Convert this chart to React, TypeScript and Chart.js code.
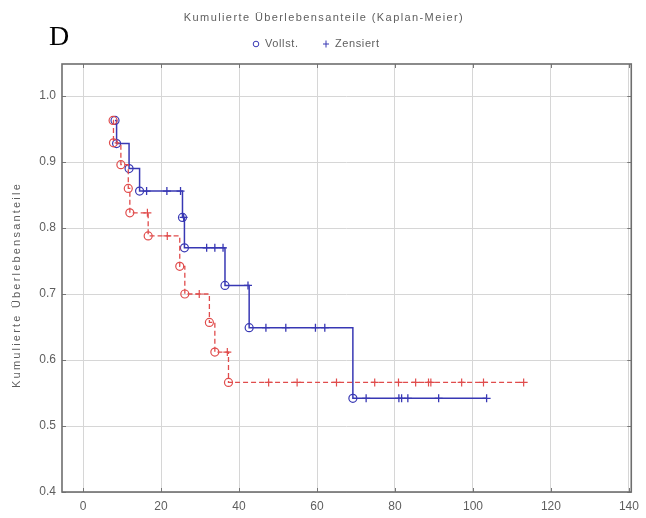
import { useEffect, useRef } from "react";
import { Chart, registerables } from "chart.js";

Chart.register(...registerables);

// Axis ticks
const xTicks = [0, 20, 40, 60, 80, 100, 120, 140];
const yTicks = [0.4, 0.5, 0.6, 0.7, 0.8, 0.9, 1.0];

// Group 1 (blue, solid): event times and survival after each event
const blueEventTimes = [8.2, 8.6, 11.8, 14.5, 25.5, 26.0, 36.4, 42.6, 69.2];
const blueEventSurv = [0.963, 0.928, 0.89, 0.856, 0.816, 0.77, 0.713, 0.649, 0.542];
const blueCensored = [16.3, 21.5, 25.0, 25.8, 31.7, 33.8, 35.9, 42.3, 46.9, 52.0, 59.6, 62.0, 72.6, 81.0, 81.7, 83.3, 91.2, 103.5];

// Group 2 (red, dashed)
const redEventTimes = [7.7, 7.8, 9.7, 11.6, 12.0, 16.7, 24.8, 26.1, 32.4, 33.8, 37.3];
const redEventSurv = [0.963, 0.929, 0.896, 0.86, 0.823, 0.788, 0.742, 0.7, 0.657, 0.612, 0.566];
const redCensored = [16.5, 21.6, 29.8, 37.0, 47.6, 54.9, 65.0, 74.8, 80.9, 85.3, 88.6, 89.2, 97.1, 102.7, 113.0];

const titleText = "Kumulierte Überlebensanteile (Kaplan-Meier)";
const yAxisTitle = "Kumulierte Überlebensanteile";
const legendComplete = "Vollst.";
const legendCensored = "Zensiert";
const panelLetter = "D";

const BLUE = "#3838b4";
const RED = "#e04c4c";
const TEXT = "#5e5e5e";
const FONT = '"Liberation Sans", Arial, sans-serif';

// Kaplan-Meier value at time t (step function)
function survivalAt(times: number[], surv: number[], t: number): number {
  let s = 1;
  for (let i = 0; i < times.length; i++) if (times[i] <= t) s = surv[i];
  return s;
}

function curvePoints(times: number[], surv: number[], censored: number[]) {
  const pts = times.map((t, i) => ({ x: t, y: surv[i] }));
  const lastT = Math.max(...censored, ...times);
  pts.push({ x: lastT, y: survivalAt(times, surv, lastT) });
  return pts;
}

function censorPoints(times: number[], surv: number[], censored: number[]) {
  return censored.map((t) => ({ x: t, y: survivalAt(times, surv, t) }));
}

const decorPlugin = {
  id: "decor",
  afterDraw(chart: any) {
    const { ctx, chartArea } = chart;
    const { left, right, top, bottom } = chartArea;
    const xs = chart.scales.x;
    const ys = chart.scales.y;
    ctx.save();
    // inward tick marks on all four sides
    ctx.strokeStyle = "#777";
    ctx.lineWidth = 1;
    ctx.beginPath();
    xTicks.forEach((v) => {
      const px = Math.round(xs.getPixelForValue(v)) + 0.5;
      ctx.moveTo(px, bottom);
      ctx.lineTo(px, bottom - 4);
      ctx.moveTo(px, top);
      ctx.lineTo(px, top + 4);
    });
    yTicks.forEach((v) => {
      const py = Math.round(ys.getPixelForValue(v)) + 0.5;
      ctx.moveTo(left, py);
      ctx.lineTo(left + 4, py);
      ctx.moveTo(right, py);
      ctx.lineTo(right - 4, py);
    });
    ctx.stroke();
    // frame
    ctx.strokeStyle = "#6e6e6e";
    ctx.lineWidth = 1.6;
    ctx.strokeRect(left, top, right - left, bottom - top);

    // title
    ctx.fillStyle = TEXT;
    ctx.font = `11px ${FONT}`;
    ctx.letterSpacing = "1.4px";
    ctx.textAlign = "center";
    ctx.textBaseline = "middle";
    ctx.fillText(titleText, 324, 18);

    // y axis title
    ctx.save();
    ctx.translate(17, 285);
    ctx.rotate(-Math.PI / 2);
    ctx.letterSpacing = "2.2px";
    ctx.fillText(yAxisTitle, 0, 0);
    ctx.restore();

    // legend
    const ly = 44;
    ctx.letterSpacing = "0.6px";
    ctx.strokeStyle = BLUE;
    ctx.lineWidth = 1;
    ctx.beginPath();
    ctx.arc(256, ly, 2.8, 0, Math.PI * 2);
    ctx.stroke();
    ctx.beginPath();
    ctx.moveTo(326, ly - 3.5);
    ctx.lineTo(326, ly + 3.5);
    ctx.moveTo(323, ly);
    ctx.lineTo(329, ly);
    ctx.stroke();
    ctx.fillStyle = TEXT;
    ctx.textAlign = "left";
    ctx.fillText(legendComplete, 265, ly);
    ctx.fillText(legendCensored, 335, ly);

    // panel letter
    ctx.letterSpacing = "0px";
    ctx.fillStyle = "#000";
    ctx.font = '28px "Liberation Serif", "Times New Roman", serif';
    ctx.textAlign = "left";
    ctx.textBaseline = "alphabetic";
    ctx.fillText(panelLetter, 49, 45);
    ctx.restore();
  },
};

export default function App() {
  const ref = useRef<HTMLCanvasElement>(null);

  useEffect(() => {
    document.body.style.margin = "0";
    const canvas = ref.current;
    if (!canvas) return;
    const chart = new Chart(canvas, {
      type: "scatter",
      data: {
        datasets: [
          {
            label: "Gruppe 2",
            data: curvePoints(redEventTimes, redEventSurv, redCensored),
            showLine: true,
            stepped: "before",
            borderColor: RED,
            borderWidth: 1.3,
            borderDash: [5, 3],
            pointStyle: "circle",
            pointRadius: [...redEventTimes.map(() => 4), 0],
            pointBorderWidth: 1.2,
            pointBorderColor: RED,
            pointBackgroundColor: "rgba(0,0,0,0)",
            order: 1,
          },
          {
            label: "Gruppe 2 zensiert",
            data: censorPoints(redEventTimes, redEventSurv, redCensored),
            showLine: false,
            pointStyle: "cross",
            pointRadius: 4,
            pointBorderWidth: 1.2,
            pointBorderColor: RED,
            order: 0,
          },
          {
            label: "Gruppe 1",
            data: curvePoints(blueEventTimes, blueEventSurv, blueCensored),
            showLine: true,
            stepped: "before",
            borderColor: BLUE,
            borderWidth: 1.5,
            pointStyle: "circle",
            pointRadius: [...blueEventTimes.map(() => 4), 0],
            pointBorderWidth: 1.2,
            pointBorderColor: BLUE,
            pointBackgroundColor: "rgba(0,0,0,0)",
            order: 3,
          },
          {
            label: "Gruppe 1 zensiert",
            data: censorPoints(blueEventTimes, blueEventSurv, blueCensored),
            showLine: false,
            pointStyle: "cross",
            pointRadius: 4,
            pointBorderWidth: 1.3,
            pointBorderColor: BLUE,
            order: 2,
          },
        ],
      },
      options: {
        responsive: false,
        animation: false,
        events: [],
        layout: { padding: { left: 0, right: 14, top: 64, bottom: 0 } },
        plugins: {
          legend: { display: false },
          title: { display: false },
          tooltip: { enabled: false },
        },
        scales: {
          x: {
            type: "linear",
            min: -5.4,
            max: 140.6,
            afterBuildTicks: (axis: any) => {
              axis.ticks = xTicks.map((v) => ({ value: v }));
            },
            afterFit: (axis: any) => {
              axis.height = 26;
            },
            grid: { color: "#d6d6d6", lineWidth: 1, drawTicks: false },
            border: { display: false },
            ticks: {
              color: TEXT,
              font: { family: FONT, size: 12 },
              padding: 7,
              maxRotation: 0,
              callback: (v: any) => String(v),
            },
          },
          y: {
            type: "linear",
            min: 0.4,
            max: 1.0485,
            afterBuildTicks: (axis: any) => {
              axis.ticks = yTicks.map((v) => ({ value: v }));
            },
            afterFit: (axis: any) => {
              axis.width = 62;
            },
            grid: { color: "#d6d6d6", lineWidth: 1, drawTicks: false },
            border: { display: false },
            ticks: {
              color: TEXT,
              font: { family: FONT, size: 12 },
              padding: 6,
              callback: (v: any) => Number(v).toFixed(1),
            },
          },
        },
      },
      plugins: [decorPlugin],
    });
    return () => chart.destroy();
  }, []);

  return (
    <div style={{ position: "absolute", left: 0, top: 0, width: 646, height: 518, background: "#fff" }}>
      <canvas ref={ref} width={646} height={518} style={{ display: "block" }} />
    </div>
  );
}
